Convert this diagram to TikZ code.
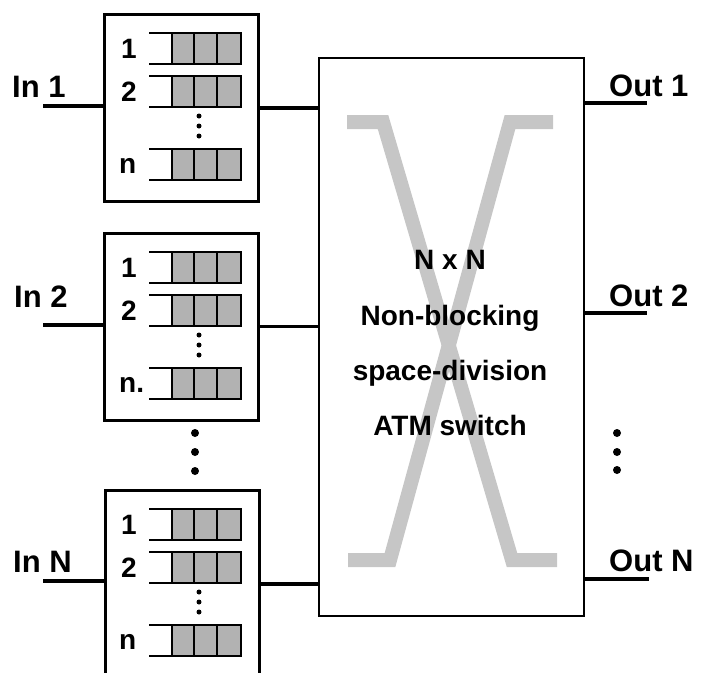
\documentclass[tikz,border=0pt]{standalone}
\usepackage{fontspec}
\setmainfont{Liberation Sans}
\begin{document}
\begin{tikzpicture}[x=1pt,y=-1pt,
  lbl/.style={font=\fontsize{28}{30}\selectfont\bfseries, inner sep=0pt},
  iolbl/.style={font=\fontsize{31}{33}\selectfont\bfseries, inner sep=0pt},
  inbox/.style={draw, line width=2.5pt, minimum width=154pt, minimum height=187pt, anchor=north west, inner sep=0pt},
  switchbox/.style={draw, line width=2pt, minimum width=265pt, minimum height=558pt, anchor=north west, inner sep=0pt},
  wire/.style={line width=4pt},
  qline/.style={line width=2.8pt},
  cell/.style={draw, fill=gray!60, line width=2.8pt},
  xband/.style={draw=gray!45, line width=14pt, line join=miter},
  smalldot/.style={circle, fill, inner sep=0pt, minimum size=5pt},
  bigdot/.style={circle, fill, inner sep=0pt, minimum size=8pt},
  queue/.pic={
    \draw[qline] (0,0) -- (24,0) (0,31) -- (24,31);
    \draw[cell] (23,0) rectangle (92,31);
    \draw[qline] (45,0) -- (45,31) (68,0) -- (68,31);
  }]
\useasboundingbox (0,0) rectangle (714,672);

% switch
\node[switchbox] (sw) at (318,57) {};
\draw[xband] (347,122) -- (383,122) -- (512,560) -- (557,560);
\draw[xband] (553,122) -- (510,122) -- (390,560) -- (348,560);
\node[lbl, anchor=base] (t1) at (450,269) {N x N};
\node[lbl, anchor=base] (t2) at (450,325) {Non-blocking};
\node[lbl, anchor=base] (t3) at (450,380) {space-division};
\node[lbl, anchor=base] (t4) at (450,435) {ATM switch};

% input boxes
\node[inbox] (b1) at (103,13) {};
\node[inbox] (b2) at (103,232) {};
\node[inbox] (b3) at (104,489) {};

\foreach \T/\nm/\nl in {13/1/n, 232/2/n., 489/3/n}{
  \pic at (149,\T+20) {queue};
  \pic at (149,\T+63) {queue};
  \pic at (149,\T+136) {queue};
  \node[lbl, anchor=center] (q1l\nm) at (129,\T+36) {1};
  \node[lbl, anchor=center] (q2l\nm) at (129,\T+79) {2};
  \node[lbl, anchor=base west] (qnl\nm) at (119,\T+160) {\nl};
  \node[smalldot] (da\nm) at (199,\T+103) {};
  \node[smalldot] (db\nm) at (199,\T+113) {};
  \node[smalldot] (dc\nm) at (199,\T+123) {};
}

% inputs
\coordinate (in1) at (43,106);
\coordinate (in2) at (43,325);
\coordinate (in3) at (43,581);
\draw[wire] (in1) -- (in1 -| b1.west);
\draw[wire] (in2) -- (in2 -| b2.west);
\draw[wire] (in3) -- (in3 -| b3.west);
\node[iolbl, anchor=base west] (l1) at (12,97) {In 1};
\node[iolbl, anchor=base west] (l2) at (14,307) {In 2};
\node[iolbl, anchor=base west] (l3) at (13,572) {In N};

% box to switch
\draw[wire] (b1.east) -- (b1.east -| sw.west);
\draw[line width=3pt] (b2.east) -- (b2.east -| sw.west);
\draw[wire] (b3.east) -- (b3.east -| sw.west);

% outputs
\coordinate (o1) at (647,103);
\coordinate (o2) at (647,313);
\coordinate (o3) at (649,579);
\draw[wire] (o1 -| sw.east) -- (o1);
\draw[wire] (o2 -| sw.east) -- (o2);
\draw[wire] (o3 -| sw.east) -- (o3);
\node[iolbl, anchor=base west] (r1) at (609,96) {Out 1};
\node[iolbl, anchor=base west] (r2) at (609,306) {Out 2};
\node[iolbl, anchor=base west] (r3) at (609,571) {Out N};

% vertical ellipses
\node[bigdot] (m1) at (195,433) {};
\node[bigdot] (m2) at (195,452) {};
\node[bigdot] (m3) at (195,471) {};
\node[bigdot] (n1) at (617,433) {};
\node[bigdot] (n2) at (617,452) {};
\node[bigdot] (n3) at (617,470) {};
\end{tikzpicture}
\end{document}
